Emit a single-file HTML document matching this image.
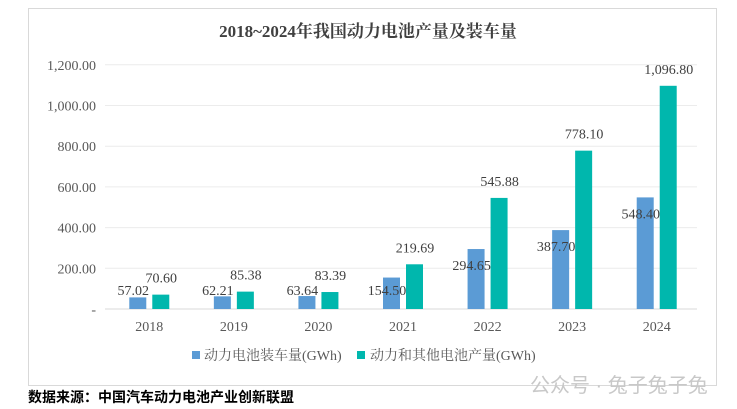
<!DOCTYPE html>
<html><head><meta charset="utf-8"><style>
body{margin:0;background:#fff;width:737px;height:409px;overflow:hidden}
svg{display:block}
</style></head><body>
<svg width="737" height="409" font-family="'Liberation Serif','Noto Serif CJK SC',serif">
<rect x="28.5" y="8.5" width="688" height="377" fill="#fff" stroke="#d9d9d9"/>
<text x="368" y="37" text-anchor="middle" font-size="17" font-weight="bold" fill="#404040">2018~2024年我国动力电池产量及装车量</text>
<g id="grid"></g><g id="bars"></g><g id="labels"></g>
<g>
<rect x="192" y="351" width="8" height="8" fill="#5b9bd5"/>
<text x="204" y="360" font-size="14" fill="#595959">动力电池装车量(GWh)</text>
<rect x="357" y="351" width="8" height="8" fill="#00b7ad"/>
<text x="370" y="360" font-size="14" fill="#595959">动力和其他电池产量(GWh)</text>
</g>
<text x="530" y="392" font-size="20" fill="#c8c8c8" font-family="'Liberation Sans','Noto Sans CJK SC',sans-serif">公众号 · 兔子兔子兔</text>
<text x="28" y="402" font-size="14" font-weight="bold" fill="#000" font-family="'Liberation Sans','Noto Sans CJK SC',sans-serif">数据来源：中国汽车动力电池产业创新联盟</text>
</svg>
<script>
const categories=['2018','2019','2020','2021','2022','2023','2024'];
const installed=[57.02,62.21,63.64,154.50,294.65,387.70,548.40];
const production=[70.60,85.38,83.39,219.69,545.88,778.10,1096.80];
const yTicks=[0,200,400,600,800,1000,1200];
const yTickLabels=['-','200.00','400.00','600.00','800.00','1,000.00','1,200.00'];
const NS='http://www.w3.org/2000/svg';
const x0=105,x1=697,y0=309,yScale=40.7/200;
const ys=v=>y0-v*yScale;
const step=(x1-x0)/categories.length;
const xc=i=>x0+step*(i+0.5);
function mk(tag,attrs,parent){const e=document.createElementNS(NS,tag);for(const k in attrs)e.setAttribute(k,attrs[k]);parent.appendChild(e);return e;}
const grid=document.getElementById('grid'),bars=document.getElementById('bars'),labels=document.getElementById('labels');
yTicks.forEach((t,i)=>{
 const l=mk('line',{x1:x0,x2:x1,y1:ys(t),y2:ys(t),stroke:t===0?'#d9d9d9':'#ececec','stroke-width':1},grid);
 
 
 const tx=mk('text',{x:96,y:ys(t)+5,'text-anchor':'end','font-size':14,fill:'#595959'},grid);
 tx.textContent=yTickLabels[i];
 
 
});
categories.forEach((c,i)=>{
 const cx=xc(i);
 const b1=mk('rect',{x:cx-18,y:ys(installed[i]),width:17,height:installed[i]*yScale,fill:'#5b9bd5'},bars);
 
 
 const b2=mk('rect',{x:cx+5,y:ys(production[i]),width:17,height:production[i]*yScale,fill:'#00b7ad'},bars);
 
 
 const xl=mk('text',{x:cx+2,y:331,'text-anchor':'middle','font-size':14,fill:'#595959'},labels);
 xl.textContent=c;
 
 
 const l1=mk('text',{x:cx-14,y:Math.min(ys(installed[i])+16,290)+5,'text-anchor':'middle','font-size':14,fill:'#404040'},labels);
 l1.textContent=installed[i].toFixed(2);
 
 
 const l2=mk('text',{x:cx+14,y:ys(production[i])-17+5,'text-anchor':'middle','font-size':14,fill:'#404040'},labels);
 l2.textContent=production[i].toLocaleString('en-US',{minimumFractionDigits:2,maximumFractionDigits:2});
 
 
});
</script>
</body></html>
